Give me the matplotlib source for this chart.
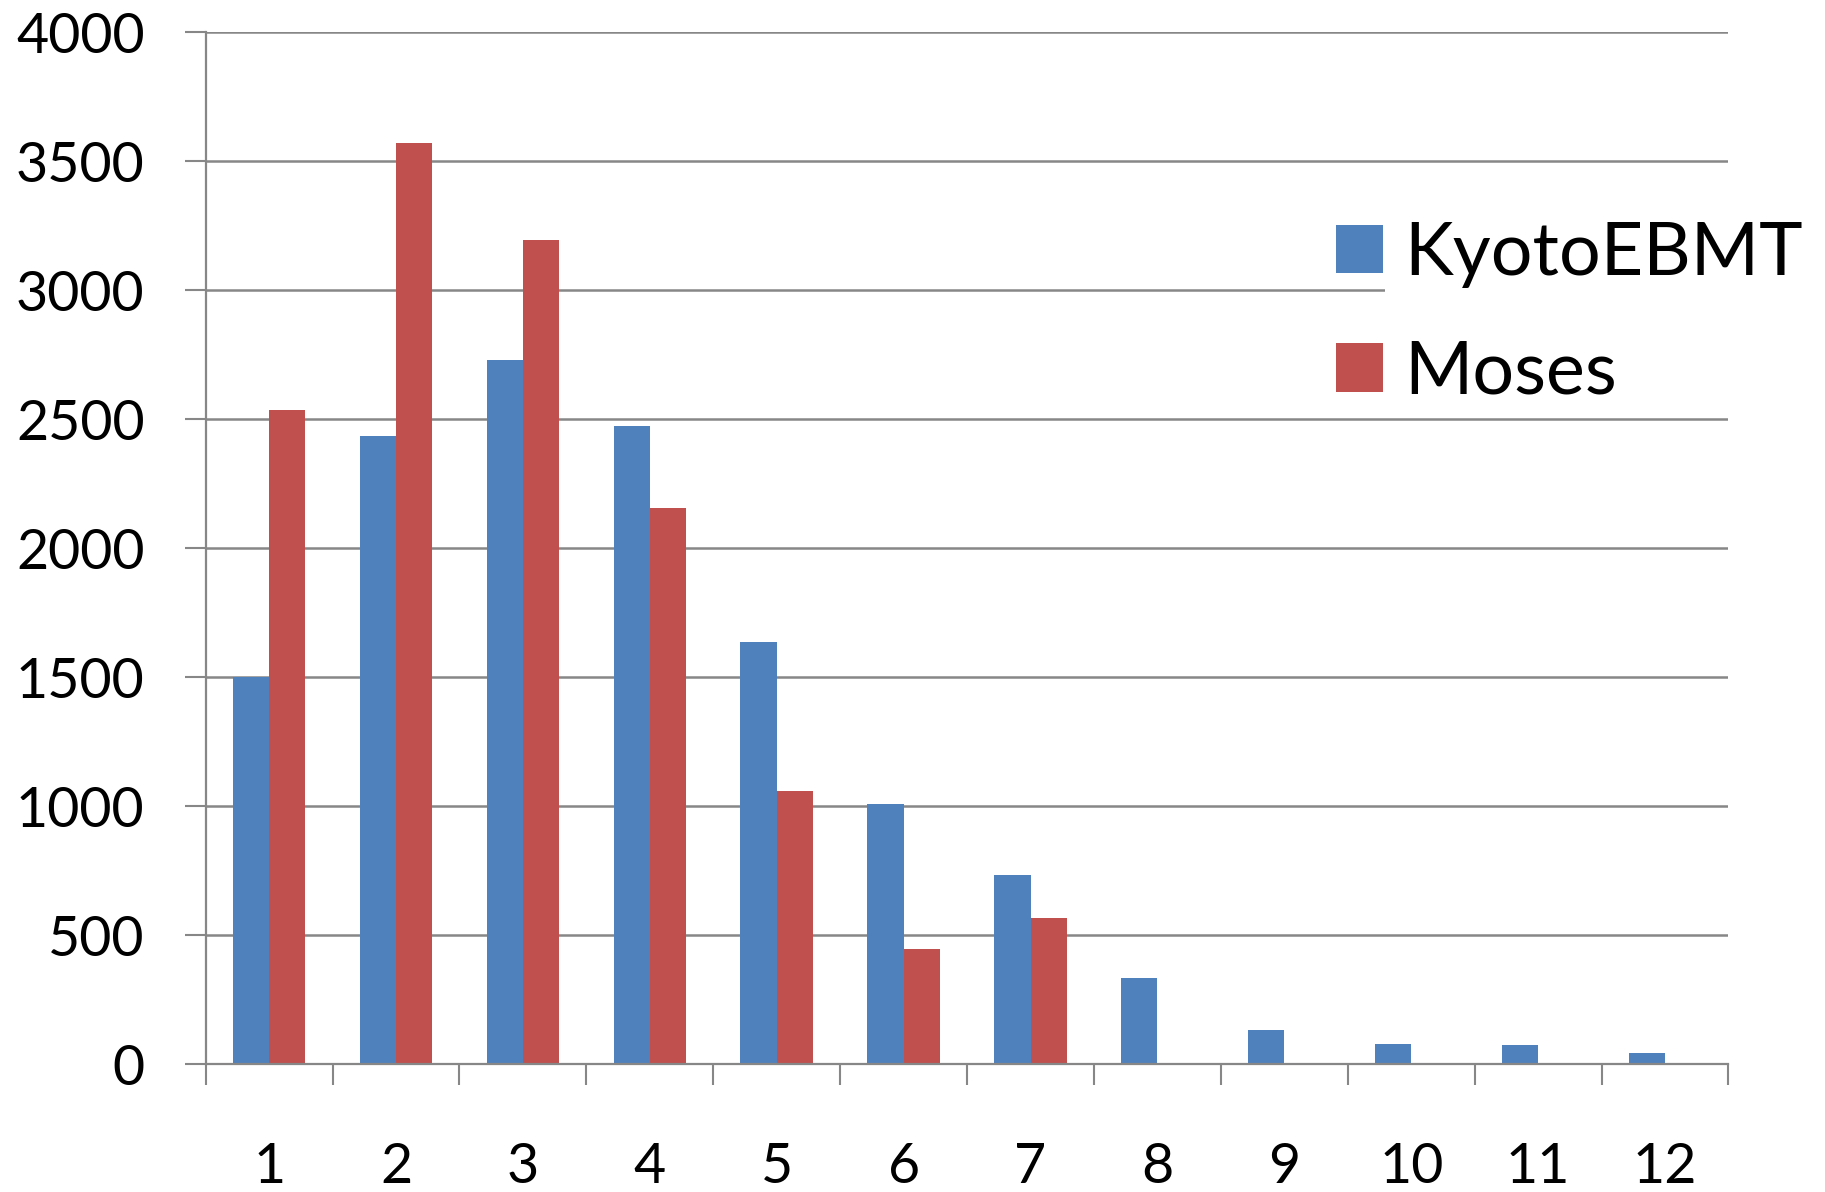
import matplotlib
matplotlib.use("Agg")
import matplotlib.pyplot as plt
from matplotlib.patches import Rectangle, Patch
import numpy as np

plt.rcParams['font.family'] = ['Lato', 'DejaVu Sans']

# Data
categories = ["1", "2", "3", "4", "5", "6", "7", "8", "9", "10", "11", "12"]
kyotoebmt = [1500, 2433, 2730, 2472, 1635, 1007, 733, 335, 132, 76, 72, 44]
moses = [2535, 3571, 3192, 2156, 1059, 447, 565, 0, 0, 0, 0, 0]
series_names = ["KyotoEBMT", "Moses"]
y_ticks = [0, 500, 1000, 1500, 2000, 2500, 3000, 3500, 4000]

BLUE = "#4F81BD"
RED = "#C0504D"
GRAY = "#878787"

fig = plt.figure(figsize=(18.25, 11.92), dpi=100)
ax = fig.add_axes([0.11271, 0.10738, 0.83441, 0.86577])

x = np.arange(1, len(categories) + 1)
w = 1 / 3.5
ax.bar(x - w / 2, kyotoebmt, width=w, color=BLUE, edgecolor="none", zorder=1)
ax.bar(x + w / 2, moses, width=w, color=RED, edgecolor="none", zorder=1)

ax.set_xlim(0.5, len(categories) + 0.5)
ax.set_ylim(0, 4000)

# Spines
for s in ["top", "right"]:
    ax.spines[s].set_visible(False)
for s in ["left", "bottom"]:
    ax.spines[s].set_color(GRAY)
    ax.spines[s].set_linewidth(1.6)

# Y axis
ax.set_yticks(y_ticks)
ax.set_yticklabels([str(v) for v in y_ticks])
ax.tick_params(axis="y", which="major", direction="out", length=15, width=1.5,
               color=GRAY, labelsize=40, pad=29)
ax.set_axisbelow(True)
ax.grid(axis="y", color=GRAY, linewidth=1.8)

# X axis: boundary ticks, labels at category centres
ax.set_xticks(np.arange(0.5, len(categories) + 1, 1.0))
ax.set_xticklabels([])
ax.set_xticks(x, minor=True)
ax.set_xticklabels(categories, minor=True)
ax.tick_params(axis="x", which="major", direction="out", length=15, width=1.5, color=GRAY)
ax.tick_params(axis="x", which="minor", length=0, labelsize=40, pad=56)

# White backing behind the legend
ax.add_patch(Rectangle((1385 / 1825, 1 - 400 / 1192), (1800 - 1385) / 1825, 200 / 1192,
                       transform=fig.transFigure, facecolor="white", edgecolor="none",
                       zorder=0.8, clip_on=False))

handles = [Patch(facecolor=BLUE, edgecolor="none"), Patch(facecolor=RED, edgecolor="none")]
fig.legend(handles, series_names, loc="upper left",
           bbox_to_anchor=(1336 / 1825, 1 - 221 / 1192),
           frameon=False, fontsize=53, handlelength=0.64, handleheight=0.64,
           handletextpad=0.29, labelspacing=0.7, borderpad=0, borderaxespad=0)

fig.savefig("out.png", dpi=100, facecolor="white")
